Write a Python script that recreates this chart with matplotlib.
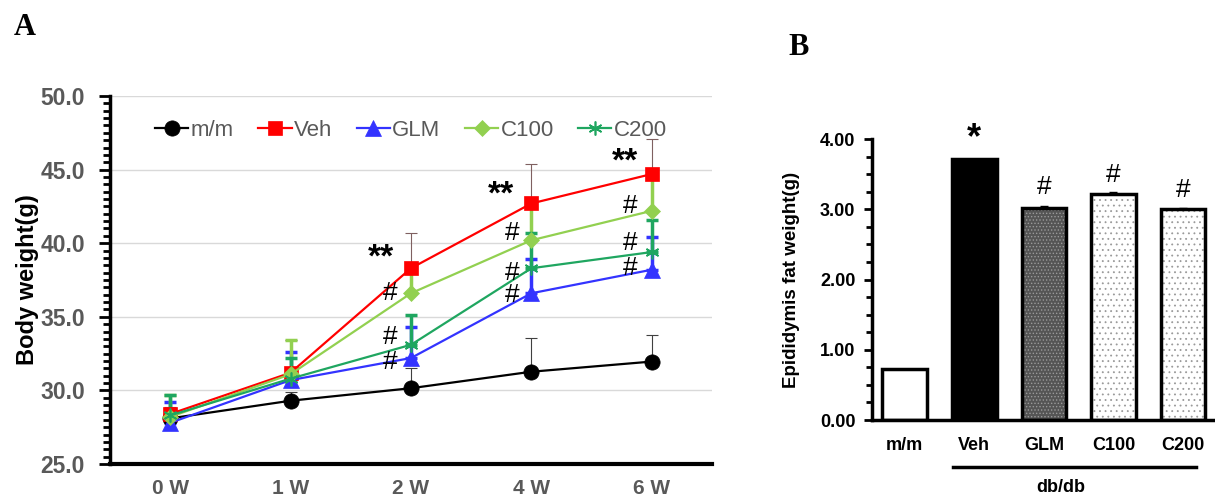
import matplotlib
matplotlib.use("Agg")
import matplotlib.pyplot as plt
import numpy as np
from matplotlib.ticker import MultipleLocator

plt.rcParams['font.family'] = ['Liberation Sans', 'DejaVu Sans']
plt.rcParams['hatch.linewidth'] = 0.6

# ---------------- Data: panel A ----------------
weeks = ["0 W", "1 W", "2 W", "4 W", "6 W"]
mm_vals = [28.1, 29.3, 30.15, 31.27, 31.96]
mm_err = [0.3, 0.6, 1.35, 2.3, 1.8]
veh_vals = [28.4, 31.2, 38.3, 42.7, 44.7]
veh_err = [0.5, 2.2, 2.4, 2.65, 2.4]
glm_vals = [27.8, 30.7, 32.2, 36.6, 38.2]
glm_err = [1.4, 1.9, 2.1, 2.3, 2.2]
c100_vals = [28.2, 31.1, 36.6, 40.2, 42.2]
c100_err = [1.5, 2.3, 1.5, 2.5, 2.3]
c200_vals = [28.3, 30.8, 33.1, 38.3, 39.4]
c200_err = [1.4, 1.4, 2.0, 2.4, 2.2]
series_names = ["m/m", "Veh", "GLM", "C100", "C200"]

# ---------------- Data: panel B ----------------
groups = ["m/m", "Veh", "GLM", "C100", "C200"]
fat_vals = [0.72, 3.72, 3.02, 3.22, 3.00]
fat_err = [0.0, 0.0, 0.02, 0.02, 0.02]

fig = plt.figure(figsize=(12.15, 4.99), dpi=100)

# ---------------- Panel A ----------------
axA = fig.add_axes([0.0905, 0.0701, 0.4955, 0.7375])
x = np.arange(len(weeks))
gray_txt = '#595959'

specs = [
    (mm_vals, mm_err, 'black', 'o', 11, '#404040', 0.8),
    (veh_vals, veh_err, '#ff0000', 's', 10, '#7f6060', 0.8),
    (glm_vals, glm_err, '#3333ff', '^', 11, '#3333ff', 2.5),
    (c100_vals, c100_err, '#92d050', 'D', 8, '#92d050', 2.5),
    (c200_vals, c200_err, '#1fa660', (6, 2, 0), 10, '#1fa660', 2.5),
]
for (vals, err, col, mk, ms, ecol, elw), name in zip(specs, series_names):
    err = np.array(err)
    axA.errorbar(x, vals, yerr=[np.zeros_like(err), err], fmt='none',
                 ecolor=ecol, elinewidth=elw, capsize=4, capthick=elw, zorder=2)
for (vals, err, col, mk, ms, ecol, elw), name in zip(specs, series_names):
    axA.plot(x, vals, color=col, marker=mk, markersize=ms, lw=1.6,
             markeredgewidth=1.2 if isinstance(mk, tuple) else 0.5,
             markeredgecolor=col, label=name, zorder=3)

axA.set_xlim(-0.5, 4.5)
axA.set_ylim(25, 50)
axA.yaxis.set_major_locator(MultipleLocator(5))
axA.yaxis.set_minor_locator(MultipleLocator(0.5))
axA.yaxis.set_major_formatter(matplotlib.ticker.FormatStrFormatter('%.1f'))
axA.set_xticks(x)
axA.set_xticklabels(weeks)
axA.grid(axis='y', color='#d9d9d9', lw=1)
axA.set_axisbelow(True)
for s in ['top', 'right']:
    axA.spines[s].set_visible(False)
axA.spines['left'].set_linewidth(2.5)
axA.spines['bottom'].set_linewidth(3)
axA.tick_params(axis='y', which='major', length=8, width=2, direction='out',
                labelsize=16.5, labelcolor=gray_txt, pad=10)
axA.tick_params(axis='y', which='minor', length=5, width=2, direction='out')
axA.tick_params(axis='x', length=0, labelsize=15, labelcolor=gray_txt, pad=11)
for lab in axA.get_xticklabels() + axA.get_yticklabels():
    lab.set_fontweight('bold')
axA.set_ylabel("Body weight(g)", fontsize=17, fontweight='bold', labelpad=1)

leg = axA.legend(loc='upper center', bbox_to_anchor=(0.5, 0.99), ncol=5,
                 frameon=False, fontsize=16, handlelength=1.5, handletextpad=0.1,
                 columnspacing=1.1, labelcolor=gray_txt)

# significance marks
big = dict(fontsize=24, fontweight='bold', ha='center', va='center', color='black')
hsh = dict(fontsize=19, ha='center', va='center', color='black')
axA.text(1.75, 39.0, "**", **big)
axA.text(2.75, 43.3, "**", **big)
axA.text(3.78, 45.5, "**", **big)
for xi, yv in [(1.83, 36.6), (1.83, 33.6), (1.83, 31.9),
               (2.84, 40.7), (2.84, 38.0), (2.84, 36.5),
               (3.82, 42.5), (3.82, 40.0), (3.82, 38.3)]:
    axA.text(xi, yv, "#", **hsh)

fig.text(0.020, 0.945, "A", fontsize=22, fontweight='bold',
         family=['Liberation Serif'], va='center', ha='center')
fig.text(0.657, 0.905, "B", fontsize=22, fontweight='bold',
         family=['Liberation Serif'], va='center', ha='center')

# ---------------- Panel B ----------------
axB = fig.add_axes([0.7177, 0.1583, 0.2823, 0.5631])
xb = np.arange(len(groups))
faces = ['white', 'black', '#555555', 'white', 'white']
hatches = [None, None, '.....', '...', '...']
hcols = ['black', 'black', '#9a9a9a', '#9a9a9a', '#9a9a9a']
for i in range(len(groups)):
    axB.bar(xb[i], fat_vals[i], width=0.64, facecolor=faces[i],
            edgecolor=hcols[i], hatch=hatches[i], lw=0, zorder=2)
    axB.bar(xb[i], fat_vals[i], width=0.64, facecolor='none',
            edgecolor='black', lw=2.5, zorder=3)
fe = np.array(fat_err)
axB.errorbar(xb, fat_vals, yerr=[np.zeros_like(fe), fe], fmt='none',
             ecolor='black', elinewidth=1.5, capsize=3, zorder=4)
axB.set_xlim(-0.47, 4.46)
axB.set_ylim(0, 4)
axB.yaxis.set_major_locator(MultipleLocator(1))
axB.yaxis.set_minor_locator(MultipleLocator(0.25))
axB.yaxis.set_major_formatter(matplotlib.ticker.FormatStrFormatter('%.2f'))
axB.set_xticks(xb)
axB.set_xticklabels(groups)
for s in ['top', 'right']:
    axB.spines[s].set_visible(False)
axB.spines['left'].set_linewidth(2.5)
axB.spines['bottom'].set_linewidth(2.5)
axB.tick_params(axis='y', which='major', length=6, width=2, direction='out',
                labelsize=13, pad=6)
axB.tick_params(axis='y', which='minor', length=4, width=2, direction='out')
axB.tick_params(axis='x', length=0, labelsize=13, pad=12)
for lab in axB.get_xticklabels() + axB.get_yticklabels():
    lab.set_fontweight('bold')
axB.set_ylabel("Epididymis fat weight(g)", fontsize=13.5, fontweight='bold', labelpad=14)

axB.text(1, 4.0, "*", fontsize=26, fontweight='bold', ha='center', va='center',
         clip_on=False)
for xi, yv in [(2, 3.32), (3, 3.49), (4, 3.27)]:
    axB.text(xi, yv, "#", fontsize=19, ha='center', va='center')

# db/db bracket
axB.plot([0.69, 4.18], [-0.67, -0.67], color='black', lw=2.5, clip_on=False)
axB.text(2.24, -0.96, "db/db", fontsize=13, fontweight='bold', ha='center',
         va='center')

fig.savefig("out.png", dpi=100)
